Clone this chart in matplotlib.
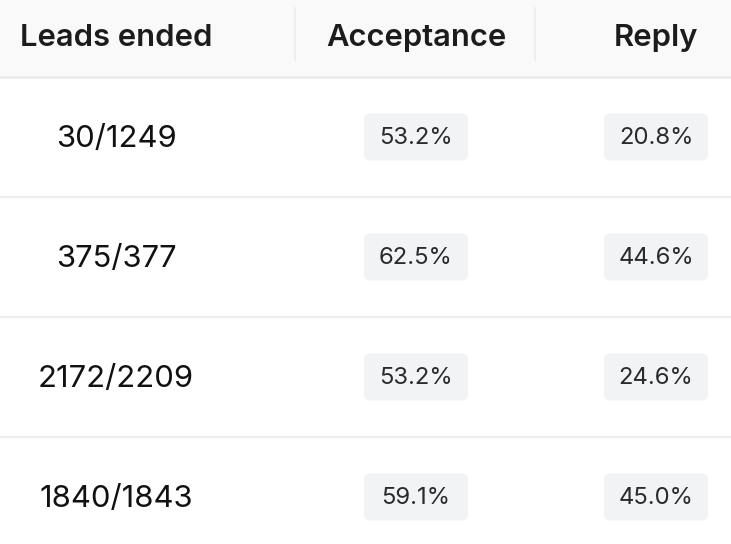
import matplotlib
matplotlib.use("Agg")
import matplotlib.pyplot as plt
from matplotlib.patches import FancyBboxPatch, Rectangle

headers = ["Leads ended", "Acceptance", "Reply"]
leads = ["30/1249", "375/377", "2172/2209", "1840/1843"]
acceptance = ["53.2%", "62.5%", "53.2%", "59.1%"]
reply = ["20.8%", "44.6%", "24.6%", "45.0%"]

W, H = 731, 544
fig = plt.figure(figsize=(W / 100, H / 100), dpi=100)
ax = fig.add_axes([0, 0, 1, 1])
ax.set_xlim(0, W)
ax.set_ylim(H, 0)
ax.axis("off")
fig.patch.set_facecolor("white")

FONT = ["Inter", "DejaVu Sans"]
header_h = 77
row_h = 120

# header band
ax.add_patch(Rectangle((0, 0), W, header_h, facecolor="#f9f9f9", edgecolor="none"))
ax.plot([0, W], [header_h, header_h], color="#ececec", lw=2)
for xd in [295, 535]:
    ax.plot([xd, xd], [8, 60], color="#ebebeb", lw=1.2)

header_x = [20, 416, 656]
header_ha = ["left", "center", "center"]
for t, x, ha in zip(headers, header_x, header_ha):
    ax.text(x, 38, t, ha=ha, va="center", fontsize=22.3, fontweight="semibold",
            color="#1c1c1c", family=FONT)

for i, (l, a, r) in enumerate(zip(leads, acceptance, reply)):
    yc = header_h + row_h * i + row_h / 2
    if i > 0:
        yl = header_h + row_h * i
        ax.plot([0, W], [yl, yl], color="#ececec", lw=1.5)
    ax.text(116, yc + 2.5, l, ha="center", va="center", fontsize=22.3, color="#111111",
            family=FONT)
    for val, xc in [(a, 416), (r, 656)]:
        bw, bh = 104, 47
        ax.add_patch(FancyBboxPatch((xc - bw / 2 + 6, yc - bh / 2 + 6), bw - 12, bh - 12,
                                    boxstyle="round,pad=6", facecolor="#f2f3f5",
                                    edgecolor="none"))
        ax.text(xc, yc + 1.5, val, ha="center", va="center", fontsize=17.2,
                color="#2a2a2a", family=FONT)

fig.savefig("out.png", dpi=100)
